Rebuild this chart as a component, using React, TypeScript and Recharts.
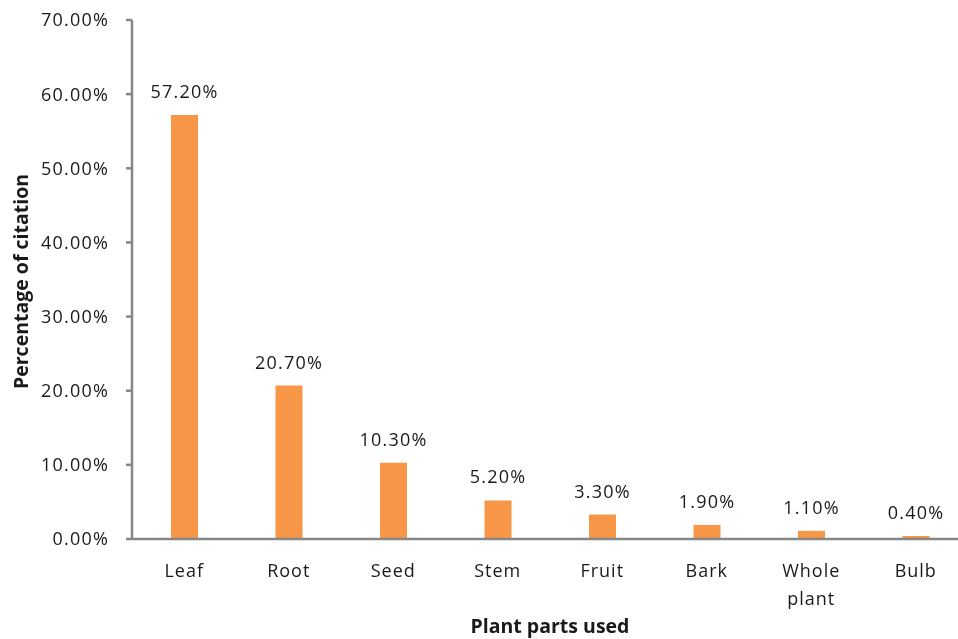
import React from 'react';
import { BarChart, Bar, XAxis, YAxis, LabelList, Label } from 'recharts';

const parts = ['Leaf', 'Root', 'Seed', 'Stem', 'Fruit', 'Bark', 'Whole plant', 'Bulb'];
const citation = [57.2, 20.7, 10.3, 5.2, 3.3, 1.9, 1.1, 0.4];
const yTicks = [0, 10, 20, 30, 40, 50, 60, 70];

const data = parts.map((part, i) => ({ part, citation: citation[i] }));

const FONT = '"Open Sans", "DejaVu Sans", sans-serif';
const AXIS = '#878787';
const INK = '#1a1a1a';

const pct = (v: number) => `${v.toFixed(2)}%`;

// category names, split onto lines at spaces
const PartTick = (props: any) => {
    const { x, y, payload } = props;
    const lines = String(payload.value).split(' ');
    return (
        <text x={x} y={y} textAnchor="middle" fill={INK} fontFamily={FONT} fontSize={18} letterSpacing={1}>
            {lines.map((line, i) => (
                <tspan key={i} x={x} dy={i === 0 ? 38 : 28}>
                    {line}
                </tspan>
            ))}
        </text>
    );
};

export default () => {
    return (
        <div style={{ position: 'fixed', top: 0, left: 0, width: 958, height: 639, overflow: 'hidden' }}>
            <BarChart
                width={980}
                height={639}
                data={data}
                margin={{ top: 20, right: 12, left: 0, bottom: 40 }}
                barSize={27}
            >
                <XAxis
                    dataKey="part"
                    tickLine={false}
                    tickSize={0}
                    tickMargin={0}
                    height={60}
                    interval={0}
                    stroke={AXIS}
                    strokeWidth={2.5}
                    tick={<PartTick />}
                >
                    <Label
                        content={(p: any) => {
                            const vb = p.viewBox;
                            return (
                                <text
                                    x={vb.x + vb.width / 2}
                                    y={vb.y + 94}
                                    textAnchor="middle"
                                    fill={INK}
                                    fontFamily={FONT}
                                    fontWeight="bold"
                                    fontSize={19.5}
                                >
                                    Plant parts used
                                </text>
                            );
                        }}
                    />
                </XAxis>
                <YAxis
                    width={132}
                    domain={[0, 70]}
                    ticks={yTicks}
                    tickFormatter={pct}
                    tickSize={6}
                    tickMargin={17}
                    stroke={AXIS}
                    strokeWidth={2.5}
                    tick={{ fill: INK, fontFamily: FONT, fontSize: 18, letterSpacing: 1.2 }}
                >
                    <Label
                        content={(p: any) => {
                            const vb = p.viewBox;
                            const cx = vb.x + 20;
                            const cy = vb.y + vb.height / 2 + 2;
                            return (
                                <text
                                    x={cx}
                                    y={cy}
                                    transform={`rotate(-90, ${cx}, ${cy})`}
                                    textAnchor="middle"
                                    dominantBaseline="central"
                                    fill={INK}
                                    fontFamily={FONT}
                                    fontWeight="bold"
                                    fontSize={19.5}
                                >
                                    Percentage of citation
                                </text>
                            );
                        }}
                    />
                </YAxis>
                <Bar dataKey="citation" fill="#F79646" isAnimationActive={false}>
                    <LabelList
                        dataKey="citation"
                        position="top"
                        offset={17}
                        formatter={(v: any) => pct(Number(v))}
                        fill={INK}
                        fontFamily={FONT}
                        fontSize={18}
                        letterSpacing={1.2}
                    />
                </Bar>
            </BarChart>
        </div>
    );
};
